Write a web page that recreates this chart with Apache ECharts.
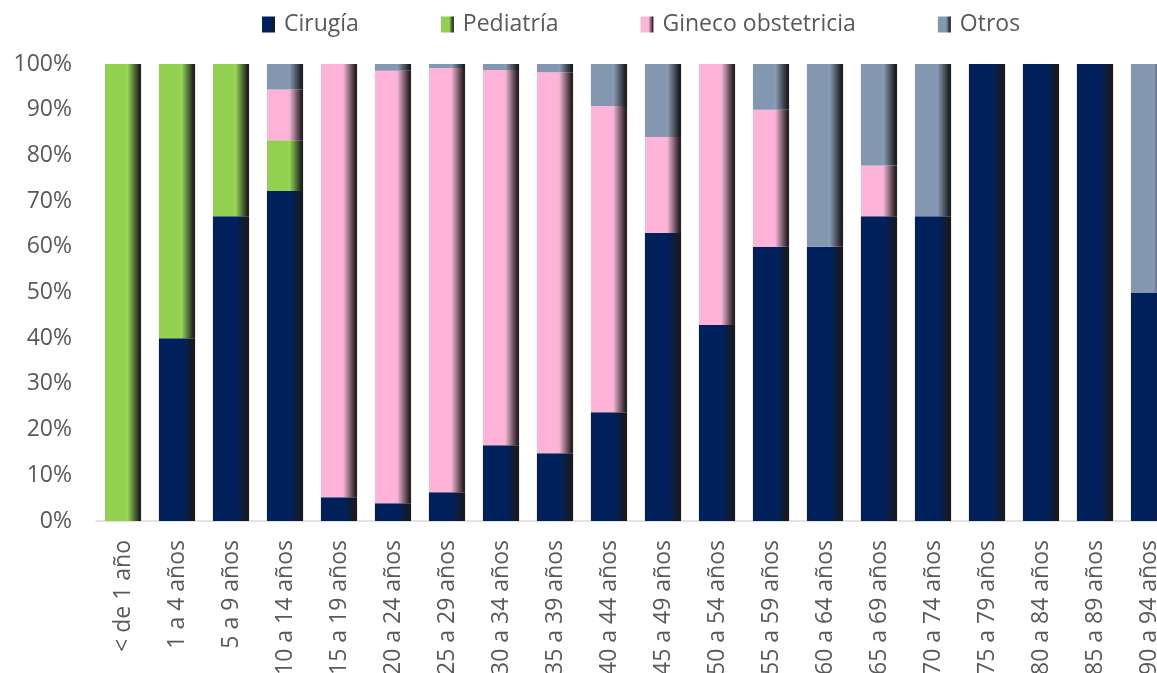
<!DOCTYPE html>
<html>
<head>
<meta charset="utf-8">
<script src="https://cdn.jsdelivr.net/npm/echarts@6/dist/echarts.min.js"></script>
<style>
html,body{margin:0;padding:0;background:#fff;}
#chart{width:1157px;height:673px;}
</style>
</head>
<body>
<div id="chart"></div>
<script>
var categories = ['< de 1 año','1 a 4 años','5 a 9 años','10 a 14 años','15 a 19 años','20 a 24 años','25 a 29 años','30 a 34 años','35 a 39 años','40 a 44 años','45 a 49 años','50 a 54 años','55 a 59 años','60 a 64 años','65 a 69 años','70 a 74 años','75 a 79 años','80 a 84 años','85 a 89 años','90 a 94 años'];
var cirugia   = [0, 40, 66.7, 72.2, 5.2, 3.9, 6.3, 16.6, 14.8, 23.8, 63.0, 42.9, 60, 60, 66.7, 66.7, 100, 100, 100, 50];
var pediatria = [100, 60, 33.3, 11.1, 0, 0, 0, 0, 0, 0, 0, 0, 0, 0, 0, 0, 0, 0, 0, 0];
var gineco    = [0, 0, 0, 11.1, 94.8, 94.6, 92.8, 82.1, 83.4, 67.0, 21.0, 57.1, 30, 0, 11.1, 0, 0, 0, 0, 0];
var otros     = [0, 0, 0, 5.6, 0, 1.5, 0.9, 1.3, 1.8, 9.2, 16.0, 0, 10, 40, 22.2, 33.3, 0, 0, 0, 50];

var chart = echarts.init(document.getElementById('chart'));

// bars have a flat face then a shaded right edge
function grad(c, light, dark) {
    return new echarts.graphic.LinearGradient(0, 0, 1, 0, [
        {offset: 0, color: c},
        {offset: 0.55, color: c},
        {offset: 0.62, color: light},
        {offset: 0.95, color: dark},
        {offset: 1, color: dark}
    ]);
}

function bar(name, data, color) {
    return {
        name: name,
        type: 'bar',
        stack: 'total',
        barCategoryGap: '33%',
        itemStyle: {color: color},
        data: data
    };
}

var option = {
    animation: false,
    textStyle: {fontFamily: 'Open Sans'},
    legend: {
        top: 8,
        left: 257,
        itemGap: 82,
        itemWidth: 13,
        itemHeight: 16,
        icon: 'rect',
        textStyle: {fontSize: 23, color: '#595959', padding: [0, 0, 0, 4]},
        data: ['Cirugía', 'Pediatría', 'Gineco obstetricia', 'Otros']
    },
    grid: {left: 96, width: 1080, top: 64, bottom: 152, outerBoundsMode: 'none', containLabel: false},
    xAxis: {
        type: 'category',
        data: categories,
        axisTick: {show: false},
        axisLine: {lineStyle: {color: '#d9d9d9', width: 1.5}},
        axisLabel: {rotate: 90, fontSize: 23, color: '#595959', margin: 19, interval: 0}
    },
    yAxis: {
        type: 'value',
        min: 0,
        max: 100,
        interval: 10,
        splitLine: {show: false},
        axisLine: {show: false},
        axisLabel: {formatter: '{value}%', fontSize: 23, color: '#595959', margin: 24}
    },
    series: [
        bar('Cirugía', cirugia, grad('#00205c', '#00215e', '#18191d')),
        bar('Pediatría', pediatria, grad('#92d050', '#99d85a', '#222222')),
        bar('Gineco obstetricia', gineco, grad('#ffb3d9', '#f2b5d6', '#2a2226')),
        bar('Otros', otros, grad('#8497b0', '#8a9db5', '#1e1f22'))
    ]
};
chart.setOption(option);
</script>
</body>
</html>
